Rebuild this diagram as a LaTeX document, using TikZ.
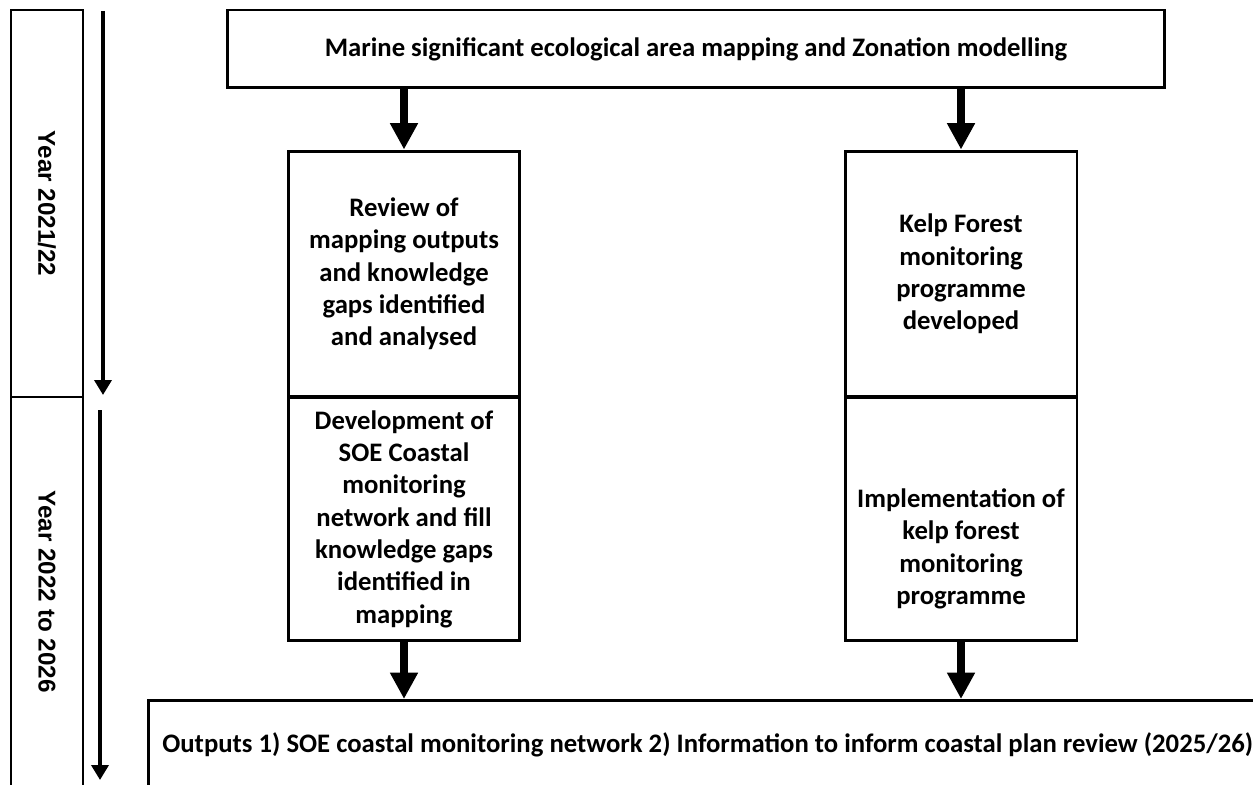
\documentclass[tikz,border=0pt]{standalone}
\usepackage{fontspec}
\setmainfont{Carlito}
\newfontfamily\yearfont{Liberation Sans}
\usetikzlibrary{arrows.meta, positioning, calc}

\begin{document}
\begin{tikzpicture}[x=0.02cm, y=-0.02cm,
  box/.style={draw, line width=1.7pt, align=flush center, inner sep=0pt, font=\fontsize{15.2}{18.4}\selectfont\bfseries},
  stage/.style={box, minimum width=4.64cm, text width=4.4cm},
  plain/.style={align=flush center, inner sep=0pt, font=\fontsize{15.2}{18.4}\selectfont\bfseries},
  yearbox/.style={draw, line width=1.1pt, minimum width=1.44cm},
  yeartext/.style={rotate=-90, inner sep=0pt, font=\yearfont\fontsize{13.8}{16}\selectfont\bfseries},
  flow/.style={-{Triangle[width=15pt, length=15pt]}, line width=4.5pt},
  time/.style={-{Triangle[width=9.6pt, length=8.5pt]}, line width=2.6pt},
]
  \useasboundingbox (0,0) rectangle (1253,784);

  % Years
  \node[yearbox, minimum height=7.74cm] (yr1) at (47,203.5) {};
  \node[yeartext] (yr1text) at (yr1) {Year 2021/22};
  \node[yearbox, minimum height=7.78cm] (yr2) at (47,591.5) {};
  \node[yeartext] (yr2text) at (yr2) {Year 2022 to 2026};

  \coordinate (t1a) at (103,11);
  \coordinate (t1b) at (103,395);
  \coordinate (t2a) at (100,410);
  \coordinate (t2b) at (100,780);
  \draw[time] (t1a) -- (t1b);
  \draw[time] (t2a) -- (t2b);

  % Mapping
  \node[box, minimum width=18.76cm, minimum height=1.56cm] (zonation) at (696,49) {Marine significant ecological area mapping and Zonation modelling};

  % Coastal network
  \node[stage, minimum height=4.92cm] (review) at (404,274) {Review of\\mapping outputs\\and knowledge\\gaps identified\\and analysed};
  \node[stage, minimum height=4.88cm] (develop) at (404,519) {Development of\\SOE Coastal\\monitoring\\network and fill\\knowledge gaps\\identified in\\mapping};

  % Kelp forest
  \node[stage, minimum height=4.92cm] (kelpdev) at (961,274) {Kelp Forest\\monitoring\\programme\\developed};
  \node[stage, minimum height=4.88cm] (kelpimp) at (961,519) {};
  \node[plain] (kelpimptext) at (961,549) {Implementation of\\kelp forest\\monitoring\\programme};

  % Outputs
  \node[box, minimum width=23.06cm, minimum height=2.62cm, anchor=north west] (outputs) at (147,699) {};
  \node[plain, anchor=west] (outtext) at (162,745) {Outputs 1) SOE coastal monitoring network 2) Information to inform coastal plan review (2025/26)};

  % Arrows
  \draw[flow] (review.north |- zonation.south) -- (review.north);
  \draw[flow] (kelpdev.north |- zonation.south) -- (kelpdev.north);
  \draw[flow] (develop.south) -- (develop.south |- outputs.north);
  \draw[flow] (kelpimp.south) -- (kelpimp.south |- outputs.north);
\end{tikzpicture}
\end{document}
